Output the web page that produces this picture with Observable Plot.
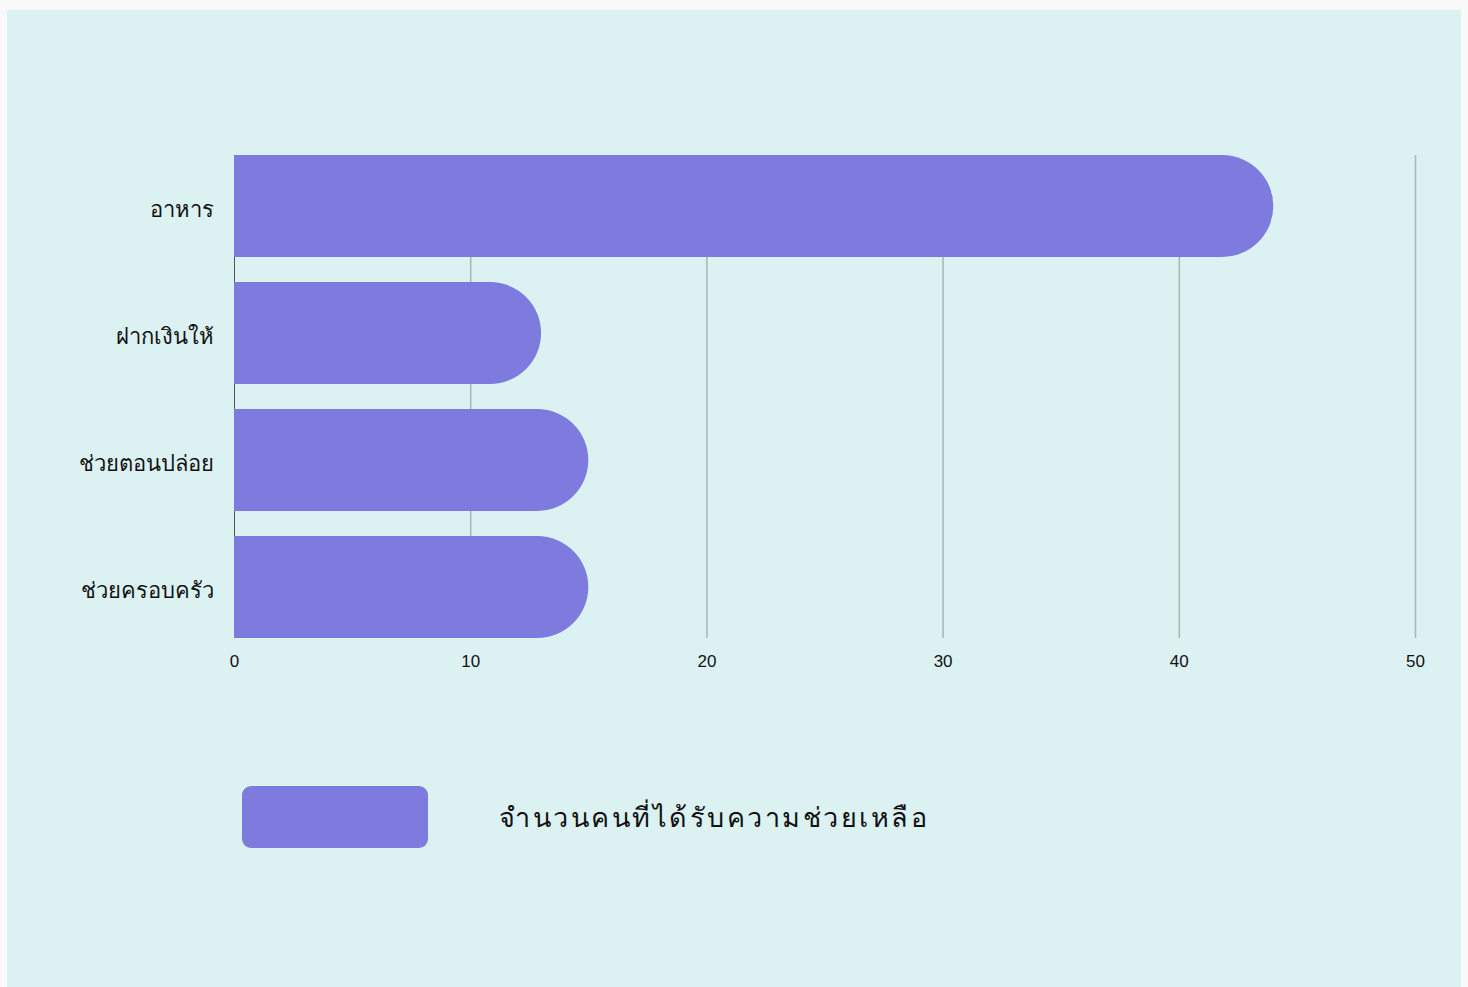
<!DOCTYPE html>
<html>
<head>
<meta charset="utf-8">
<script src="https://cdn.jsdelivr.net/npm/d3@7"></script>
<script src="https://cdn.jsdelivr.net/npm/@observablehq/plot@0.6"></script>
<style>
  html, body { margin: 0; padding: 0; background: #f9f9f9; }
  #panel { position: absolute; left: 7px; top: 10px; width: 1454px; height: 977px; background: #dcf1f2; }
  #chart { position: absolute; left: 0; top: 0; }
  #legend { position: absolute; left: 235px; top: 776px; display: flex; align-items: center; }
  #swatch { width: 186px; height: 62px; border-radius: 9px; background: #7f7ade; }
  #legend-label { margin-left: 71px; font-family: "Liberation Sans", "Noto Sans", sans-serif; font-size: 27px; letter-spacing: 2.5px; color: #111; }
</style>
</head>
<body>
<div id="panel">
  <div id="chart"></div>
  <div id="legend"><div id="swatch"></div><div id="legend-label"></div></div>
</div>
<script>
const categories = ["อาหาร", "ฝากเงินให้", "ช่วยตอนปล่อย", "ช่วยครอบครัว"];
const values = [44, 13, 15, 15];
const xTicks = [0, 10, 20, 30, 40, 50];
const seriesName = "จำนวนคนที่ได้รับความช่วยเหลือ";
const barColor = "#7f7ade";

const data = categories.map((c, i) => ({category: c, value: values[i]}));

document.getElementById("legend-label").textContent = seriesName;

const chart = Plot.plot({
  width: 1454,
  height: 700,
  marginLeft: 227,
  marginRight: 46,
  marginTop: 145,
  marginBottom: 72,
  style: {background: "transparent", fontFamily: "'Liberation Sans', 'Noto Sans', sans-serif"},
  x: {domain: [0, 50], ticks: xTicks, label: null},
  y: {domain: categories, paddingInner: 0.197, paddingOuter: 0, label: null},
  marks: [
    Plot.ruleX(xTicks.filter(d => d > 0), {stroke: "#a7b9b3", strokeWidth: 1.5, strokeOpacity: 1}),
    Plot.ruleX([0], {stroke: "#555", strokeWidth: 1}),
    Plot.barX(data, {x1: 0, x2: "value", y: "category", fill: barColor, rx: 51}),
    Plot.barX(data, {x1: 0, x2: d => d.value / 2, y: "category", fill: barColor}),
    Plot.axisX({ticks: xTicks, tickSize: 0, tickPadding: 16, fontSize: 17, fill: "#111", label: null}),
    Plot.axisY({tickSize: 0, tickPadding: 21, fontSize: 22, dy: 3, fill: "#111", label: null})
  ]
});
document.getElementById("chart").appendChild(chart);
</script>
</body>
</html>
